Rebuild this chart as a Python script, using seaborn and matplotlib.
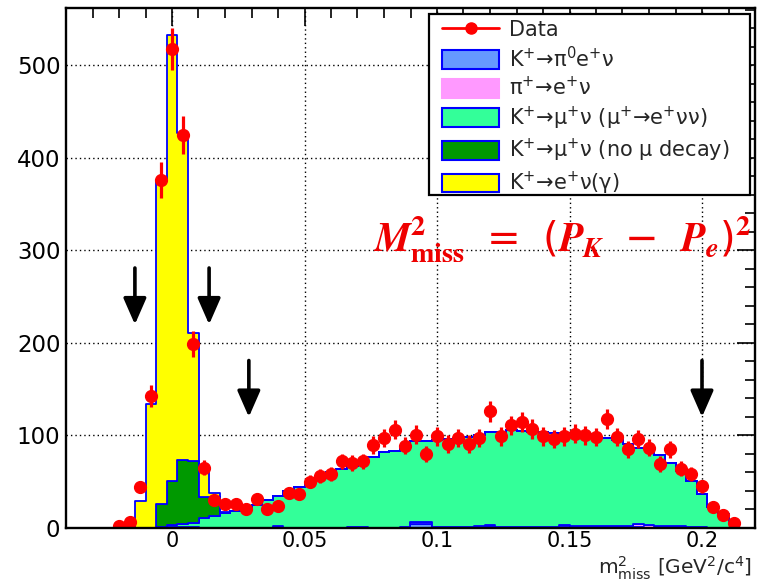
import numpy as np
import pandas as pd
import matplotlib
matplotlib.use("Agg")
import matplotlib.pyplot as plt
import seaborn as sns
from matplotlib.lines import Line2D
from matplotlib.patches import Patch, Rectangle
from matplotlib.ticker import MultipleLocator, FixedLocator, FixedFormatter

# ---------------- data ----------------
bin_width = 0.004
first_center = -0.020   # centre of first bin

data_counts = [2, 6, 44, 143, 376, 518, 425, 199, 65, 30,
               26, 26, 20, 31, 20, 24, 38, 37, 50, 56,
               58, 72, 70, 72, 90, 97, 106, 89, 101, 80,
               99, 91, 97, 91, 97, 126, 99, 111, 115, 107,
               99, 96, 99, 102, 100, 98, 118, 98, 85, 96,
               87, 69, 85, 64, 58, 45, 23, 14, 5]

mc_ke2 = [0, 0, 29, 134, 349, 482, 353, 139, 30, 5,
          1, 0, 0, 0, 0, 0, 0, 0, 0, 0,
          0, 0, 0, 0, 0, 0, 0, 0, 0, 0,
          0, 0, 0, 0, 0, 0, 0, 0, 0, 0,
          0, 0, 0, 0, 0, 0, 0, 0, 0, 0,
          0, 0, 0, 0, 0, 0, 0, 0, 0]

mc_kmu2_nodecay = [0, 0, 0, 0, 25, 48, 70, 67, 22, 20,
                   0, 0, 0, 0, 0, 0, 0, 0, 0, 0,
                   0, 0, 0, 0, 0, 0, 0, 0, 0, 0,
                   0, 0, 0, 0, 0, 0, 0, 0, 0, 0,
                   0, 0, 0, 0, 0, 0, 0, 0, 0, 0,
                   0, 0, 0, 0, 0, 0, 0, 0, 0]

mc_kmu2_mudecay = [0, 0, 0, 0, 1, 2, 3, 4, 11, 13,
                   16, 18, 19, 25, 30, 33, 40, 44, 49, 54,
                   60, 64, 66, 70, 77, 82, 83, 88, 88, 88,
                   94, 95, 95, 97, 98, 101, 103, 105, 104, 103,
                   103, 102, 99, 101, 100, 96, 95, 93, 89, 83,
                   83, 77, 68, 60, 50, 36, 23, 15, 8]

mc_pie2 = [0, 0, 0, 0, 0, 0, 0, 0, 0, 0,
           0, 0, 0, 0, 0, 0, 0, 0, 0, 0,
           0, 0, 0, 0, 0, 0, 0, 1, 2, 2,
           1, 1, 1, 1, 1, 1, 1, 1, 1, 1,
           1, 1, 2, 2, 2, 2, 2, 2, 2, 3,
           3, 2, 2, 2, 1, 1, 0, 0, 0]

mc_ke3 = [0, 0, 0, 0, 0, 1, 1, 1, 0, 0,
          0, 0, 0, 0, 0, 2, 0, 0, 0, 0,
          0, 0, 1, 1, 0, 0, 0, 0, 4, 4,
          0, 0, 0, 0, 1, 2, 0, 0, 0, 0,
          0, 0, 1, 0, 0, 0, 0, 0, 0, 1,
          0, 0, 0, 0, 0, 0, 0, 0, 0]

legend_labels = ["Data",
                 "K$^{+}$\u2192\u03c0$^{0}$e$^{+}$\u03bd",
                 "\u03c0$^{+}$\u2192e$^{+}$\u03bd",
                 "K$^{+}$\u2192\u03bc$^{+}$\u03bd (\u03bc$^{+}$\u2192e$^{+}$\u03bd\u03bd)",
                 "K$^{+}$\u2192\u03bc$^{+}$\u03bd (no \u03bc decay)",
                 "K$^{+}$\u2192e$^{+}$\u03bd(\u03b3)"]
component_colors = ["#6699ff", "#ff99ff", "#33ff99", "#009900", "#ffff00"]

x_ticks = [0, 0.05, 0.1, 0.15, 0.2]
x_tick_labels = ["0", "0.05", "0.1", "0.15", "0.2"]
y_ticks = [0, 100, 200, 300, 400, 500]
y_tick_labels = ["0", "100", "200", "300", "400", "500"]

arrow_x = [-0.014, 0.014, 0.029, 0.2]
arrow_top = [281, 281, 181, 181]
arrow_tip = [220, 220, 120, 120]

# ---------------- style ----------------
sns.set_style("white")
plt.rcParams["font.family"] = ["DejaVu Sans"]
plt.rcParams["mathtext.fontset"] = "dejavusans"
plt.rcParams["mathtext.default"] = "regular"

fig = plt.figure(figsize=(7.58, 5.84), dpi=100)
ax = fig.add_axes([66/758, 1-528/584, (755-66)/758, (528-8)/584])

n = len(data_counts)
centers = first_center + bin_width*np.arange(n)
edges = [float(v) for v in (first_center - bin_width/2 + bin_width*np.arange(n+1))]

comp_series = [mc_ke3, mc_pie2, mc_kmu2_mudecay, mc_kmu2_nodecay, mc_ke2]
comp_names = legend_labels[1:]
rows = []
for name, vals in zip(comp_names, comp_series):
    for c, v in zip(centers, vals):
        rows.append({"m2": float(c), "count": float(v), "comp": name})
df = pd.DataFrame(rows)
palette = dict(zip(comp_names, component_colors))

# grid (below histograms)
for xv in x_ticks:
    ax.axvline(xv, color="black", ls=(0, (1, 2.2)), lw=1.0, zorder=0.5)
for yv in y_ticks[1:]:
    ax.axhline(yv, color="black", ls=(0, (1, 2.2)), lw=1.0, zorder=0.5)

# stack: first hue level on top, last at bottom
sns.histplot(data=df, x="m2", weights="count", hue="comp",
             hue_order=comp_names[::-1], palette=palette,
             bins=edges, multiple="stack", element="step", fill=True,
             alpha=1, edgecolor="#0000ff", linewidth=1.3, legend=False, ax=ax)

# data points
ax.errorbar(centers, data_counts, yerr=np.sqrt(data_counts), fmt="o",
            color="#ff0000", ms=8.5, elinewidth=2.3, capsize=0, zorder=5)

# arrows
for xa, yt, yb in zip(arrow_x, arrow_top, arrow_tip):
    ax.annotate("", xy=(xa, yb), xytext=(xa, yt),
                arrowprops=dict(arrowstyle="-|>,head_length=0.8,head_width=0.35",
                                color="black", lw=2.6, mutation_scale=20,
                                shrinkA=0, shrinkB=0), zorder=6)

ax.set_xlim(-0.04, 0.22)
ax.set_ylim(0, 562)
ax.xaxis.set_major_locator(FixedLocator(x_ticks))
ax.xaxis.set_major_formatter(FixedFormatter(x_tick_labels))
ax.yaxis.set_major_locator(FixedLocator(y_ticks))
ax.yaxis.set_major_formatter(FixedFormatter(y_tick_labels))
ax.xaxis.set_minor_locator(MultipleLocator(0.01))
ax.yaxis.set_minor_locator(MultipleLocator(20))
ax.tick_params(which="both", direction="in", top=True, right=True,
               width=1.2, colors="black")
ax.tick_params(axis="y", labelsize=16.5, pad=4)
ax.tick_params(axis="x", labelsize=15, pad=2)
ax.tick_params(which="major", length=13)
ax.tick_params(which="minor", length=7)
for sp in ax.spines.values():
    sp.set_color("black")
    sp.set_linewidth(1.7)
    sp.set_zorder(7)

ax.set_xlabel("m$^{2}_{miss}$ [GeV$^{2}$/c$^{4}$]", fontsize=14.5, ha="right", va="baseline")
ax.xaxis.set_label_coords(0.996, -0.0885)
ax.set_ylabel("")

# legend frame (ROOT style box) and entries
frame = Rectangle((0.527, 0.640), 0.466, 0.348, transform=ax.transAxes,
                  facecolor="white", edgecolor="black", lw=1.6, zorder=8)
ax.add_patch(frame)
handles = [Line2D([], [], color="#ff0000", marker="o", ms=8, lw=2)]
for i, c in enumerate(component_colors):
    ec = c if i == 1 else "#0000ff"
    handles.append(Patch(facecolor=c, edgecolor=ec, lw=1.5))
leg = ax.legend(handles, legend_labels, loc="upper left",
                bbox_to_anchor=(0.5457, 0.977), fontsize=15, frameon=False,
                handlelength=2.75, handleheight=1.0, labelspacing=0.25,
                borderpad=0, handletextpad=0.45, borderaxespad=0)
leg.set_zorder(9)

ax.text(0.72, 0.556,
        r"$\mathbfit{M}^{\mathbf{2}}_{\mathbf{miss}}\;\;=\;\;(\mathbfit{P}_{\mathbfit{K}}\;\;-\;\;\mathbfit{P}_{\mathbfit{e}})^{\mathbf{2}}$",
        transform=ax.transAxes, ha="center", va="center", color="#ee0000",
        fontsize=29, math_fontfamily="stix", zorder=6)

fig.savefig("out.png", dpi=100)
